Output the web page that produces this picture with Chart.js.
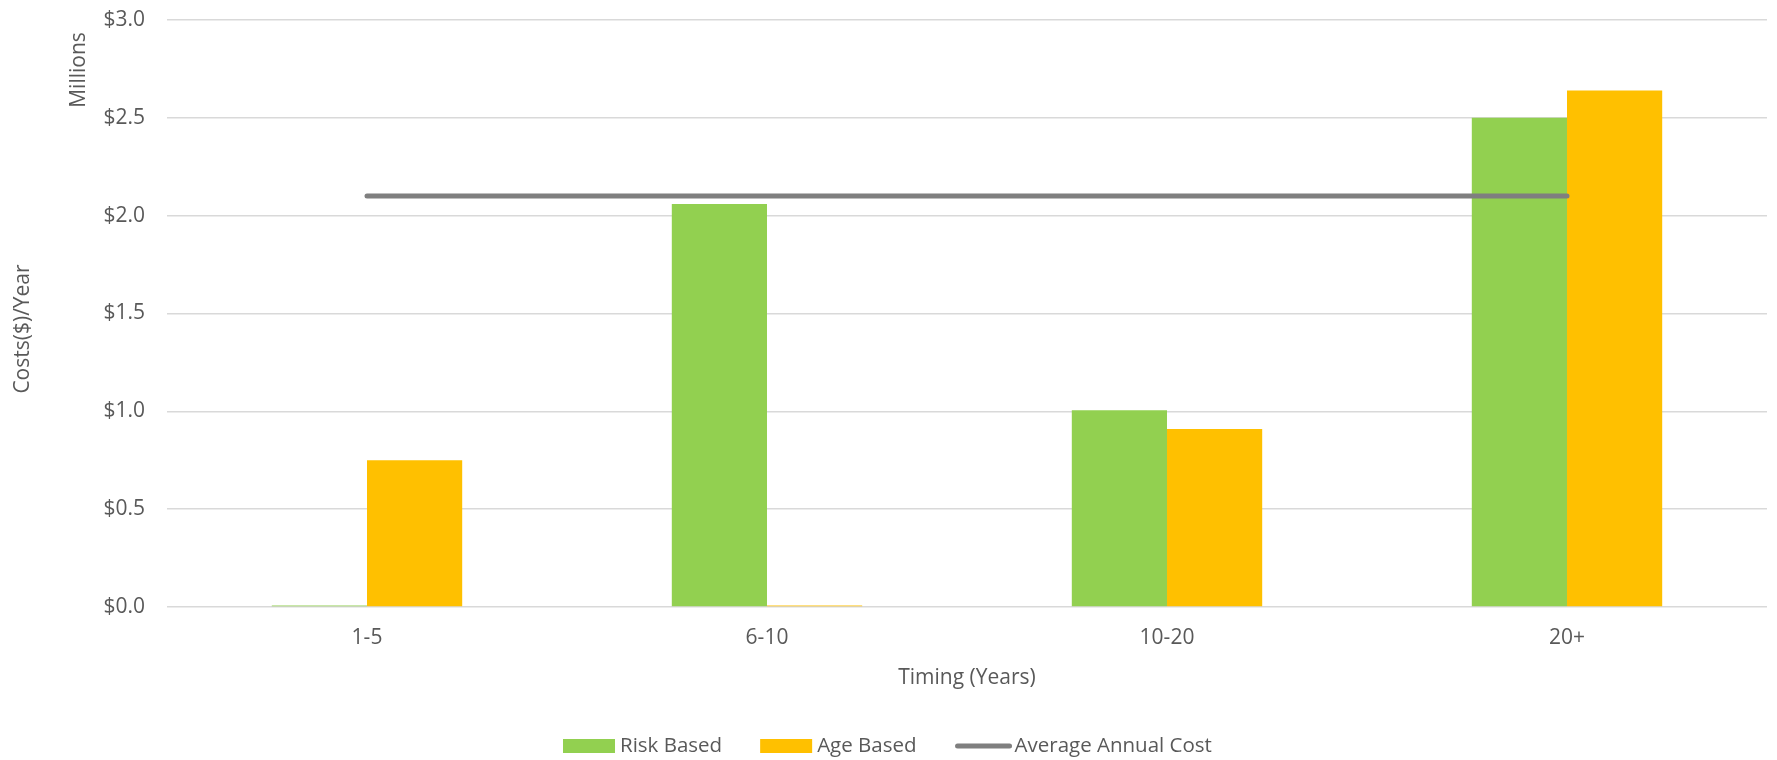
<!DOCTYPE html>
<html>
<head>
<meta charset="utf-8">
<script src="https://cdn.jsdelivr.net/npm/chart.js@4/dist/chart.umd.min.js"></script>
<style>
  html, body { margin: 0; padding: 0; background: #ffffff; }
  #wrap { width: 1777px; height: 760px; position: relative; }
</style>
</head>
<body>
<div id="wrap"><canvas id="chart" width="1777" height="760"></canvas></div>
<script>
// Cost projections by timing bucket (values in millions of dollars per year)
const categories = ['1-5', '6-10', '10-20', '20+'];
const riskBased = [0.008, 2.06, 1.005, 2.50];
const ageBased = [0.75, 0.008, 0.91, 2.64];
const averageAnnualCost = [2.1, 2.1, 2.1, 2.1];
const yTicks = [0, 0.5, 1.0, 1.5, 2.0, 2.5, 3.0];

const FONT = '"Open Sans", "Noto Sans", sans-serif';
const TEXT = '#595959';

// Axis titles, display-unit label and legend drawn on the canvas
const annotations = {
  id: 'annotations',
  afterDraw(chart) {
    const ctx = chart.ctx;
    const area = chart.chartArea;
    ctx.save();
    ctx.fillStyle = TEXT;
    ctx.font = '21px ' + FONT;
    ctx.textBaseline = 'middle';
    ctx.textAlign = 'center';

    // x axis title
    ctx.fillText('Timing (Years)', (area.left + area.right) / 2, 678);

    // y axis title
    ctx.save();
    ctx.translate(23, 329);
    ctx.rotate(-Math.PI / 2);
    ctx.fillText('Costs($)/Year', 0, 0);
    ctx.restore();

    // display units
    ctx.save();
    ctx.translate(79, 70);
    ctx.rotate(-Math.PI / 2);
    ctx.fillText('Millions', 0, 0);
    ctx.restore();

    // legend
    ctx.font = '20.5px ' + FONT;
    const ds = chart.data.datasets;
    const y = 746;
    ctx.textAlign = 'left';
    let x = 563;
    const items = [ds[0], ds[1], ds[2]];
    items.forEach((d) => {
      if (d.type === 'line') {
        ctx.strokeStyle = d.borderColor;
        ctx.lineWidth = 5;
        ctx.lineCap = 'round';
        ctx.beginPath();
        ctx.moveTo(x + 3, y);
        ctx.lineTo(x + 55, y);
        ctx.stroke();
        x += 60;
      } else {
        ctx.fillStyle = d.backgroundColor;
        ctx.fillRect(x, y - 7, 52, 14);
        x += 57;
      }
      ctx.fillStyle = TEXT;
      ctx.fillText(d.label, x, y);
      x += ctx.measureText(d.label).width + 38;
    });
    ctx.restore();
  }
};

new Chart(document.getElementById('chart'), {
  type: 'bar',
  data: {
    labels: categories,
    datasets: [
      {
        label: 'Risk Based',
        data: riskBased,
        backgroundColor: '#92D050',
        categoryPercentage: 0.476,
        barPercentage: 1.0,
        order: 1
      },
      {
        label: 'Age Based',
        data: ageBased,
        backgroundColor: '#FFC000',
        categoryPercentage: 0.476,
        barPercentage: 1.0,
        order: 1
      },
      {
        type: 'line',
        label: 'Average Annual Cost',
        data: averageAnnualCost,
        borderColor: '#7F7F7F',
        backgroundColor: '#7F7F7F',
        borderWidth: 5,
        borderCapStyle: 'round',
        pointRadius: 0,
        fill: false,
        order: 0
      }
    ]
  },
  plugins: [annotations],
  options: {
    responsive: false,
    animation: false,
    layout: { padding: { left: 0, right: 10, top: 20, bottom: 0 } },
    plugins: {
      legend: { display: false },
      tooltip: { enabled: false }
    },
    scales: {
      x: {
        grid: { display: false, drawTicks: false },
        border: { display: false },
        ticks: { color: TEXT, font: { family: FONT, size: 21 }, padding: 18 },
        afterFit(scale) { scale.height = 153; }
      },
      y: {
        min: 0,
        max: 3,
        afterBuildTicks(scale) { scale.ticks = yTicks.map(v => ({ value: v })); },
        grid: { color: '#D9D9D9', lineWidth: 1.5, drawTicks: false },
        border: { display: false },
        ticks: {
          color: TEXT,
          font: { family: FONT, size: 21 },
          padding: 22,
          callback: v => '$' + Number(v).toFixed(1)
        },
        afterFit(scale) {
          scale.width = 167;
          scale.paddingTop = 0;
          scale.paddingBottom = 0;
        }
      }
    }
  }
});
</script>
</body>
</html>
